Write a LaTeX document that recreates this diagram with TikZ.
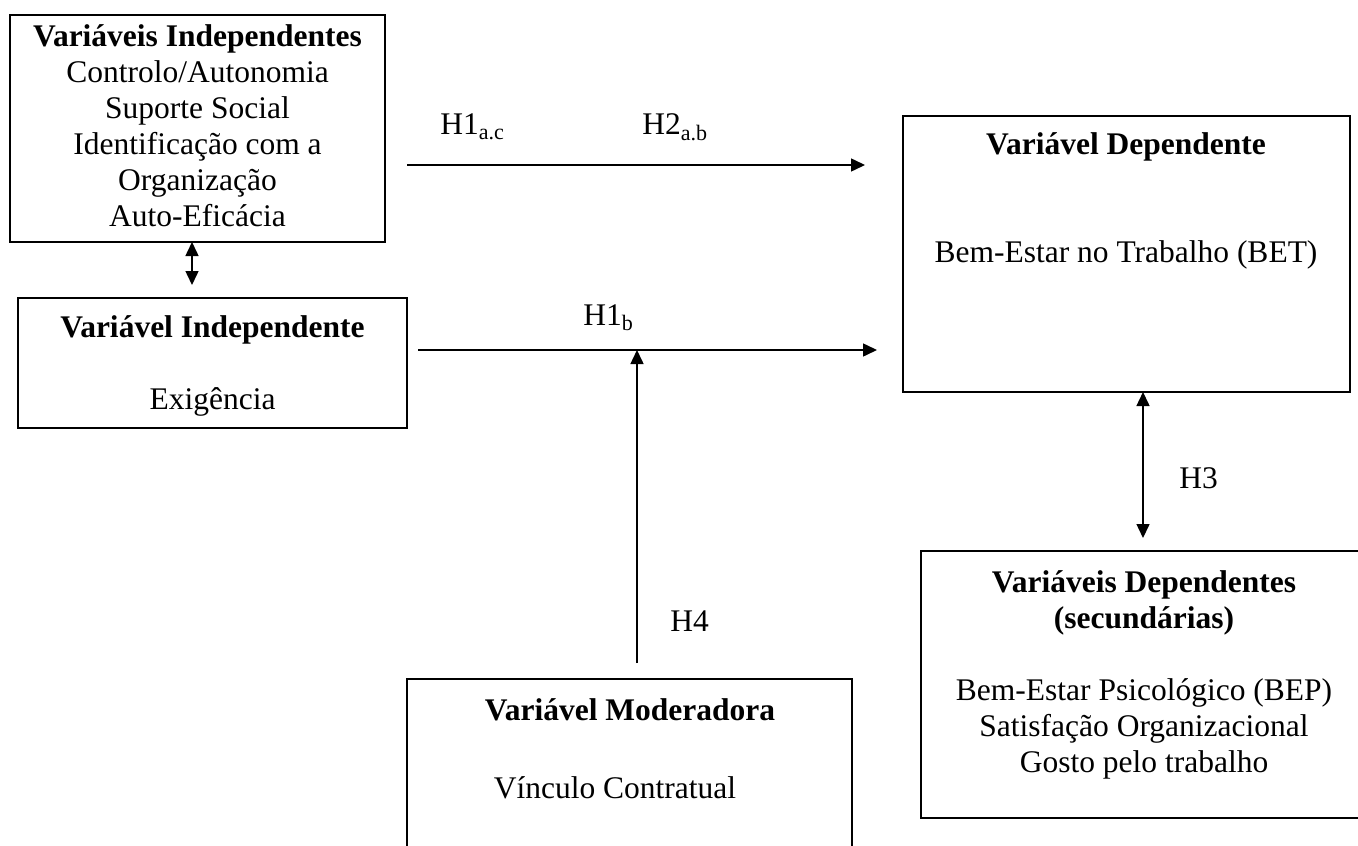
\documentclass[tikz,border=0pt]{standalone}
\usepackage{fontspec}
\setmainfont{Liberation Serif}
\usetikzlibrary{arrows.meta,fit}
\begin{document}
\begin{tikzpicture}[x=0.5pt,y=-0.5pt,
  box/.style={draw, line width=1pt, inner sep=0pt},
  txt/.style={anchor=base, inner sep=0pt, font=\fontsize{15.75}{18}\selectfont},
  lbl/.style={anchor=base west, inner sep=0pt, font=\fontsize{15.75}{18}\selectfont},
  tip/.tip={Triangle[length=7pt,width=6.5pt]},
  conn/.style={line width=0.75pt, -tip},
  dconn/.style={line width=0.75pt, tip-tip}
]
\useasboundingbox (0,0) rectangle (1358,845);
\clip (0,0) rectangle (1358,845);

% boxes
\node[box, fit={(10,15) (385,242)}] (ind) {};
\node[box, fit={(18,298) (407,428)}] (exi) {};
\node[box, fit={(903,116) (1350,392)}] (dep) {};
\node[box, fit={(921,551) (1380,818)}] (sec) {};
\node[box, fit={(407,679) (852,880)}] (mod) {};

% independent variables
\node[txt] (ind1) at (197.5,47)  {\textbf{Variáveis Independentes}};
\node[txt] (ind2) at (197.5,83)  {Controlo/Autonomia};
\node[txt] (ind3) at (197.5,119) {Suporte Social};
\node[txt] (ind4) at (197.5,155) {Identificação com a};
\node[txt] (ind5) at (197.5,191) {Organização};
\node[txt] (ind6) at (197.5,227) {Auto-Eficácia};

% demand
\node[txt] (exi1) at (212.5,337) {\textbf{Variável Independente}};
\node[txt] (exi2) at (212.5,409) {Exigência};

% dependent variable
\node[txt] (dep1) at (1126,155) {\textbf{Variável Dependente}};
\node[txt] (dep2) at (1126,263) {Bem-Estar no Trabalho (BET)};

% secondary dependent variables
\node[txt] (sec1) at (1144,592) {\textbf{Variáveis Dependentes}};
\node[txt] (sec2) at (1144,628) {\textbf{(secundárias)}};
\node[txt] (sec3) at (1144,700) {Bem-Estar Psicológico (BEP)};
\node[txt] (sec4) at (1144,736) {Satisfação Organizacional};
\node[txt] (sec5) at (1144,772) {Gosto pelo trabalho};

% moderator
\node[txt] (mod1) at (630,720) {\textbf{Variável Moderadora}};
\node[txt] (mod2) at (615,798) {Vínculo Contratual};

% connector end points
\coordinate (ts) at (407,165);
\coordinate (te) at (865,165);
\coordinate (ms) at (418,350);
\coordinate (me) at (877,350);
\coordinate (vs) at (637,663);
\coordinate (ve) at (637,350);
\coordinate (ab1) at (192,242);
\coordinate (ab2) at (192,285);
\coordinate (ce1) at (1143,392);
\coordinate (ce2) at (1143,538);

% connectors
\draw[conn] (ts) -- (te);
\draw[conn] (ms) -- (me);
\draw[conn] (vs) -- (ve);
\draw[dconn] (ab1) -- (ab2);
\draw[dconn] (ce1) -- (ce2);

% hypothesis labels
\node[lbl] (h1ac) at (440,135) {H1\textsubscript{a.c}};
\node[lbl] (h2ab) at (642,135) {H2\textsubscript{a.b}};
\node[lbl] (h1b)  at (583,325) {H1\textsubscript{b}};
\node[lbl] (h4)   at (670,631) {H4};
\node[lbl] (h3)   at (1179,488) {H3};
\end{tikzpicture}
\end{document}
